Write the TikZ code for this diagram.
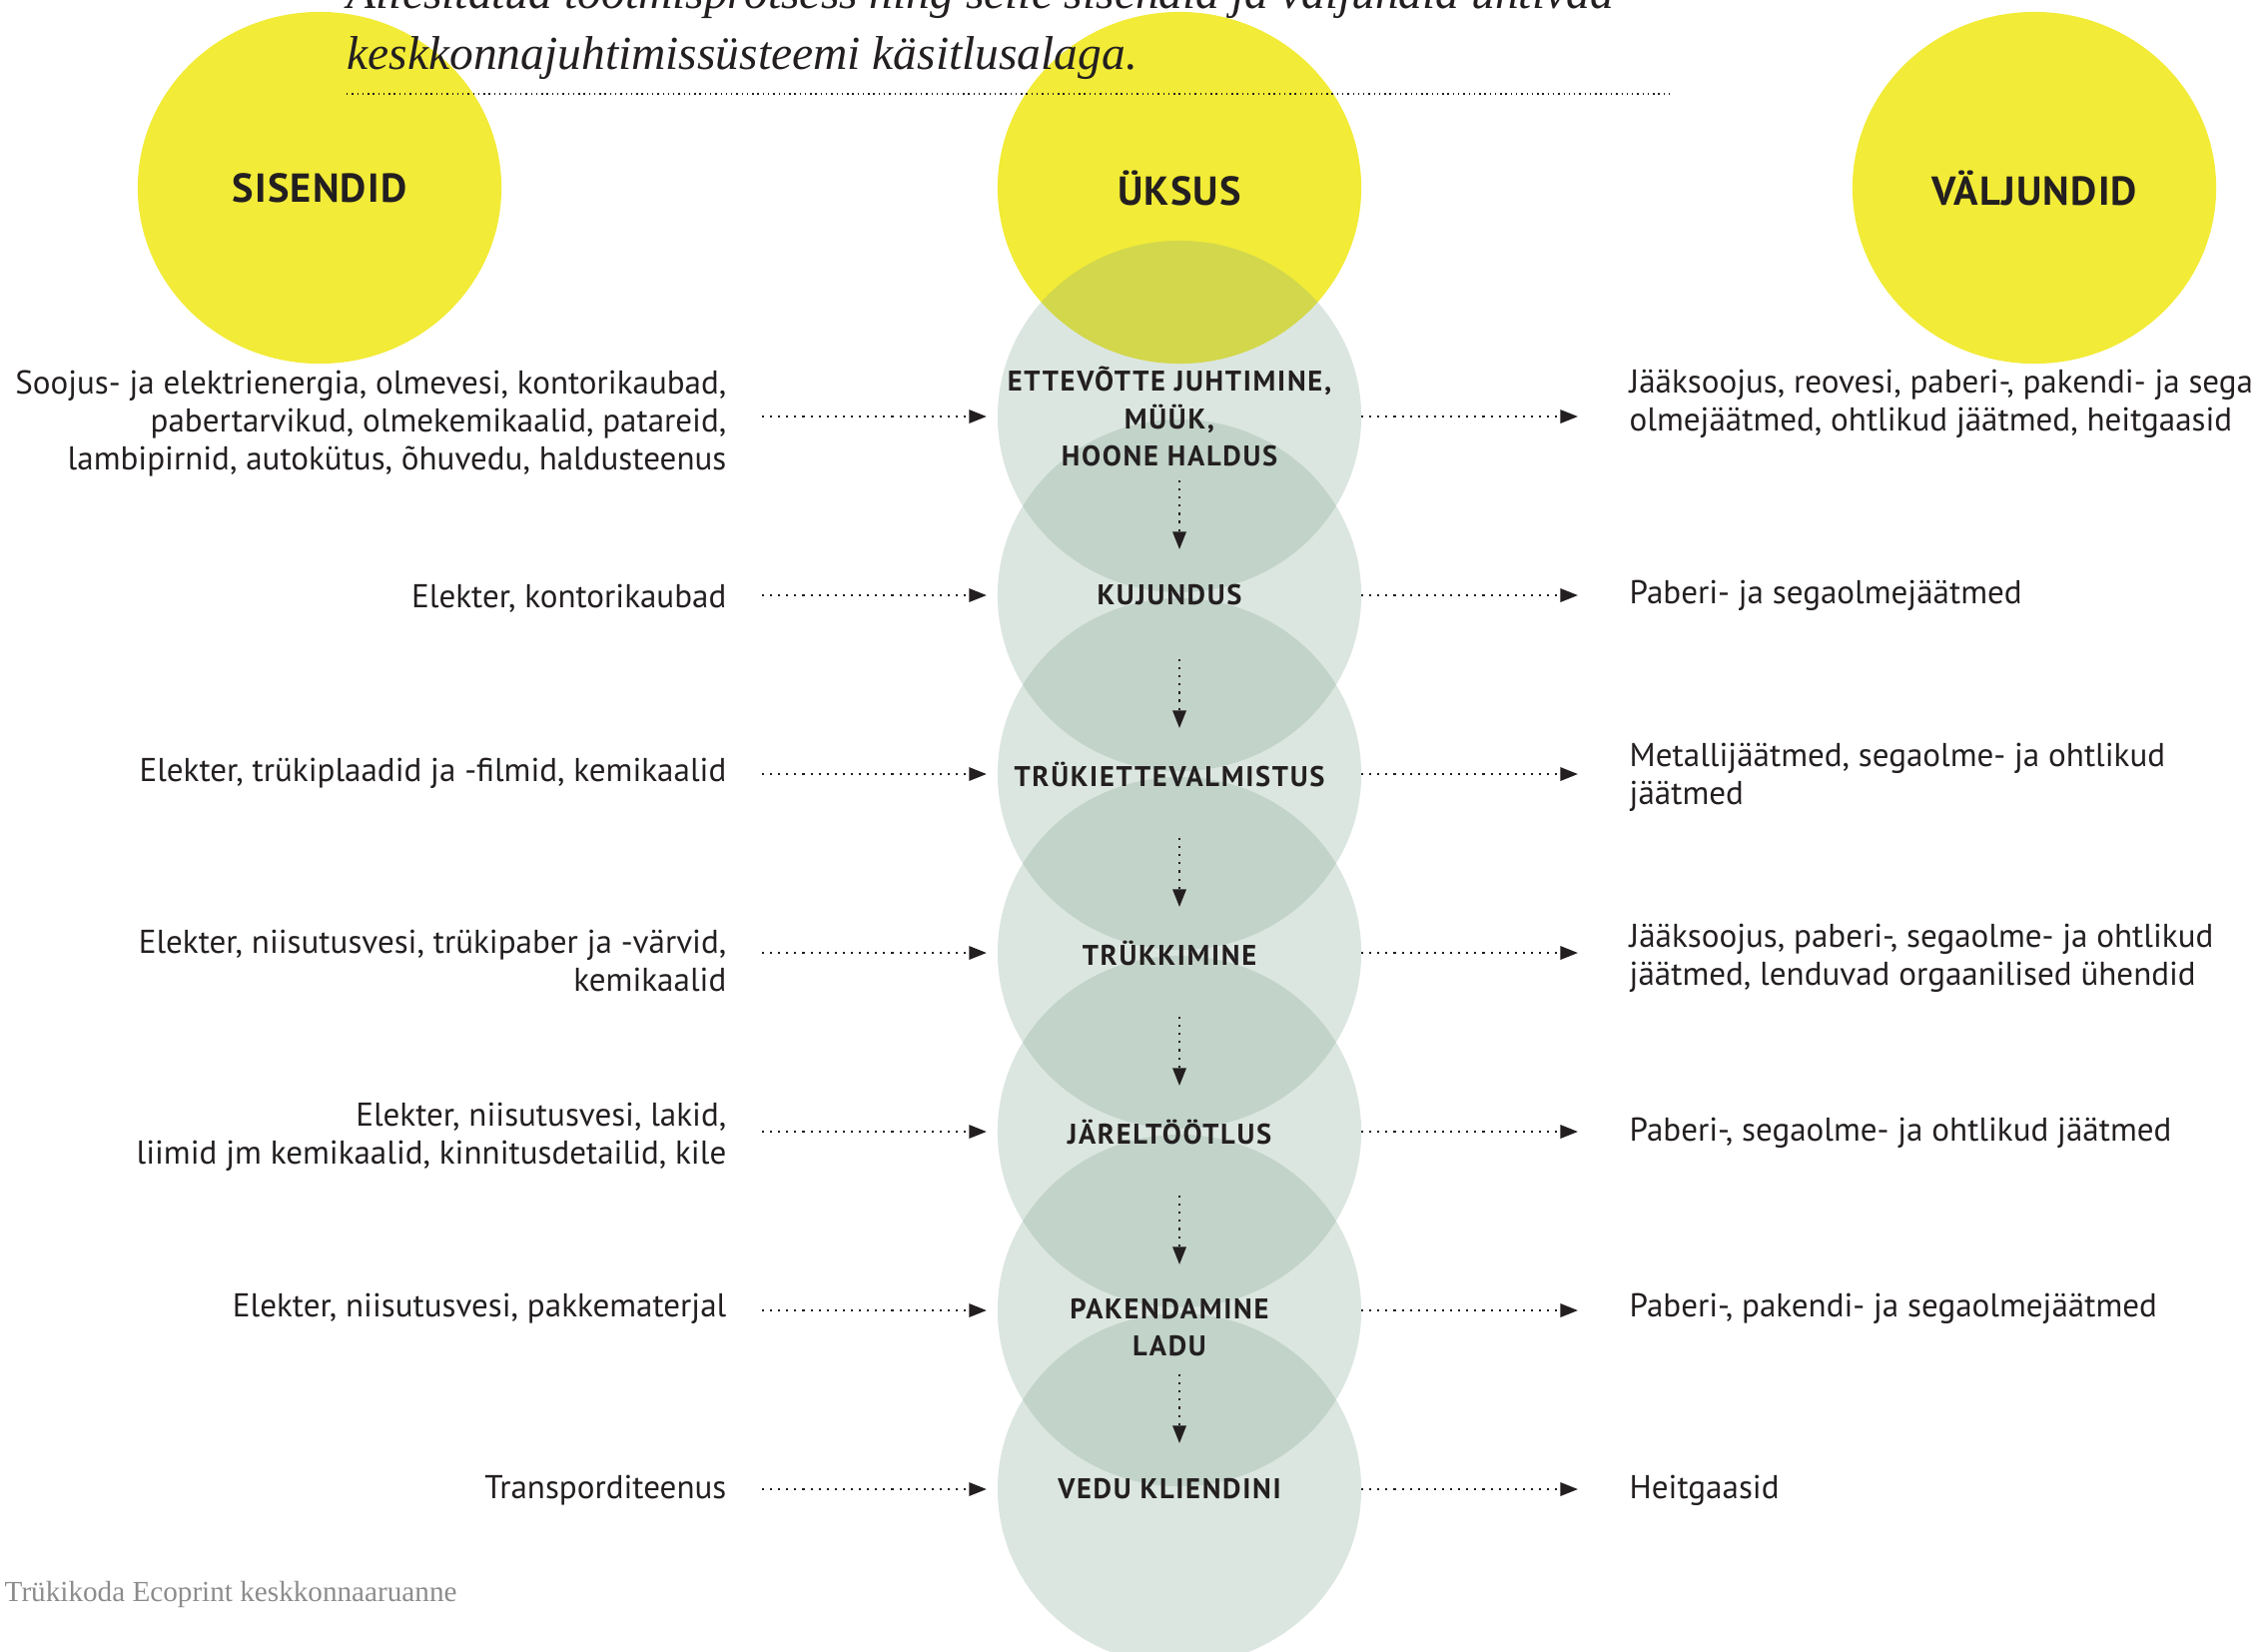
\documentclass[tikz,border=0pt]{standalone}
\usepackage{fontspec}
\setmainfont{PT Sans}
\newfontfamily\stagefont{PT Sans}[LetterSpace=6]
\newfontfamily\headfont{PT Sans}[LetterSpace=3]
\newfontfamily\notefont{Liberation Serif}
\usepackage{xcolor}
\usetikzlibrary{shapes.geometric}
\usetikzlibrary{arrows.meta}
\definecolor{sunyellow}{RGB}{242,235,55}
\definecolor{sage}{RGB}{119,158,138}
\definecolor{ink}{RGB}{35,31,32}
\definecolor{footgray}{RGB}{140,140,140}

\begin{document}
\begin{tikzpicture}[x=0.01cm,y=-0.01cm,
  sun/.style={ellipse,fill=sunyellow,minimum width=3.64cm,minimum height=3.52cm,inner sep=0pt,outer sep=0pt},
  unit/.style={ellipse,fill=sage,fill opacity=0.26,minimum width=3.64cm,minimum height=3.52cm,inner sep=0pt,outer sep=0pt},
  head/.style={font=\headfont\bfseries\fontsize{11.5}{13}\selectfont,text=ink},
  stage/.style={font=\stagefont\bfseries\fontsize{8.1}{10.7}\selectfont,align=center,text=ink},
  intext/.style={anchor=east,align=right,inner sep=0pt,font=\fontsize{9.4}{10.7}\selectfont,text=ink},
  outtext/.style={anchor=west,align=left,inner sep=0pt,font=\fontsize{9.4}{10.7}\selectfont,text=ink},
  feed/.style={draw=ink,line width=0.6pt,dash pattern=on 0.6pt off 1.7pt,-{Triangle[length=5pt,width=3.8pt]}},
  flow/.style={feed,shorten <=0.64cm,shorten >=0.46cm}]
\useasboundingbox (0,0) rectangle (2269,1653);

\node [sun] (insun) at (320,188) {};
\node [sun] (unitsun) at (1181,188) {};
\node [sun] (outsun) at (2037,188) {};
\node [head] at (insun) {SISENDID};
\node [head] at (unitsun) {ÜKSUS};
\node [head] at (outsun) {VÄLJUNDID};

\node [anchor=base west,inner sep=0pt,font=\notefont\itshape\fontsize{13.5}{16}\selectfont,text=ink]
      (title1) at (347,8) {Allesitatud tootmisprotsess ning selle sisendid ja väljundid ühtivad};
\node [anchor=base west,inner sep=0pt,font=\notefont\itshape\fontsize{13.5}{16}\selectfont,text=ink]
      (title2) at (347,69) {keskkonnajuhtimissüsteemi käsitlusalaga.};
\draw [ink,line width=0.5pt,dash pattern=on 0.4pt off 1.1pt] (347,94) -- (1674,94);

\node [unit] (c1) at (1181,417) {};
\node [unit] (c2) at (1181,596) {};
\node [unit] (c3) at (1181,775) {};
\node [unit] (c4) at (1181,954) {};
\node [unit] (c5) at (1181,1133) {};
\node [unit] (c6) at (1181,1312) {};
\node [unit] (c7) at (1181,1491) {};

\node [stage] (p1) at (1171,417) {ETTEVÕTTE JUHTIMINE,\\MÜÜK,\\HOONE HALDUS};
\node [stage] (p2) at (1171,596) {KUJUNDUS};
\node [stage] (p3) at (1171,775) {TRÜKIETTEVALMISTUS};
\node [stage] (p4) at (1171,954) {TRÜKKIMINE};
\node [stage] (p5) at (1171,1133) {JÄRELTÖÖTLUS};
\node [stage] (p6) at (1171,1329) {PAKENDAMINE\\LADU};
\node [stage] (p7) at (1171,1491) {VEDU KLIENDINI};

\node [intext] (in1) at (728,424) {Soojus- ja elektrienergia, olmevesi, kontorikaubad,\\pabertarvikud, olmekemikaalid, patareid,\\lambipirnid, autokütus, õhuvedu, haldusteenus};
\node [intext] (in2) at (728,599) {Elekter, kontorikaubad};
\node [intext] (in3) at (728,774) {Elekter, trükiplaadid ja -filmid, kemikaalid};
\node [intext] (in4) at (728,962) {Elekter, niisutusvesi, trükipaber ja -värvid,\\kemikaalid};
\node [intext] (in5) at (728,1138) {Elekter, niisutusvesi, lakid,\\liimid jm kemikaalid, kinnitusdetailid, kile};
\node [intext] (in6) at (728,1310) {Elekter, niisutusvesi, pakkematerjal};
\node [intext] (in7) at (728,1492) {Transporditeenus};

\node [outtext] (out1) at (1631,404) {Jääksoojus, reovesi, paberi-, pakendi- ja sega\\olmejäätmed, ohtlikud jäätmed, heitgaasid};
\node [outtext] (out2) at (1631,596) {Paberi- ja segaolmejäätmed};
\node [outtext] (out3) at (1631,778) {Metallijäätmed, segaolme- ja ohtlikud\\jäätmed};
\node [outtext] (out4) at (1631,959) {Jääksoojus, paberi-, segaolme- ja ohtlikud\\jäätmed, lenduvad orgaanilised ühendid};
\node [outtext] (out5) at (1631,1134) {Paberi-, segaolme- ja ohtlikud jäätmed};
\node [outtext] (out6) at (1631,1310) {Paberi-, pakendi- ja segaolmejäätmed};
\node [outtext] (out7) at (1631,1492) {Heitgaasid};

\draw [feed,shorten <=0.35cm,shorten >=0.11cm] (in1.east |- c1) -- (c1.west);
\draw [feed,shorten <=0.35cm,shorten >=0.11cm] (in2.east |- c2) -- (c2.west);
\draw [feed,shorten <=0.35cm,shorten >=0.11cm] (in3.east |- c3) -- (c3.west);
\draw [feed,shorten <=0.35cm,shorten >=0.11cm] (in4.east |- c4) -- (c4.west);
\draw [feed,shorten <=0.35cm,shorten >=0.11cm] (in5.east |- c5) -- (c5.west);
\draw [feed,shorten <=0.35cm,shorten >=0.11cm] (in6.east |- c6) -- (c6.west);
\draw [feed,shorten <=0.35cm,shorten >=0.11cm] (in7.east |- c7) -- (c7.west);

\draw [feed,shorten >=0.51cm] (c1.east) -- (c1.east -| out1.west);
\draw [feed,shorten >=0.51cm] (c2.east) -- (c2.east -| out2.west);
\draw [feed,shorten >=0.51cm] (c3.east) -- (c3.east -| out3.west);
\draw [feed,shorten >=0.51cm] (c4.east) -- (c4.east -| out4.west);
\draw [feed,shorten >=0.51cm] (c5.east) -- (c5.east -| out5.west);
\draw [feed,shorten >=0.51cm] (c6.east) -- (c6.east -| out6.west);
\draw [feed,shorten >=0.51cm] (c7.east) -- (c7.east -| out7.west);

\draw [flow] (c1.center) -- (c2.center);
\draw [flow] (c2.center) -- (c3.center);
\draw [flow] (c3.center) -- (c4.center);
\draw [flow] (c4.center) -- (c5.center);
\draw [flow] (c5.center) -- (c6.center);
\draw [flow] (c6.center) -- (c7.center);

\node [anchor=west,inner sep=0pt,font=\notefont\fontsize{8.3}{10}\selectfont,text=footgray]
      (footer) at (4,1596) {Trükikoda Ecoprint keskkonnaaruanne};
\end{tikzpicture}
\end{document}
